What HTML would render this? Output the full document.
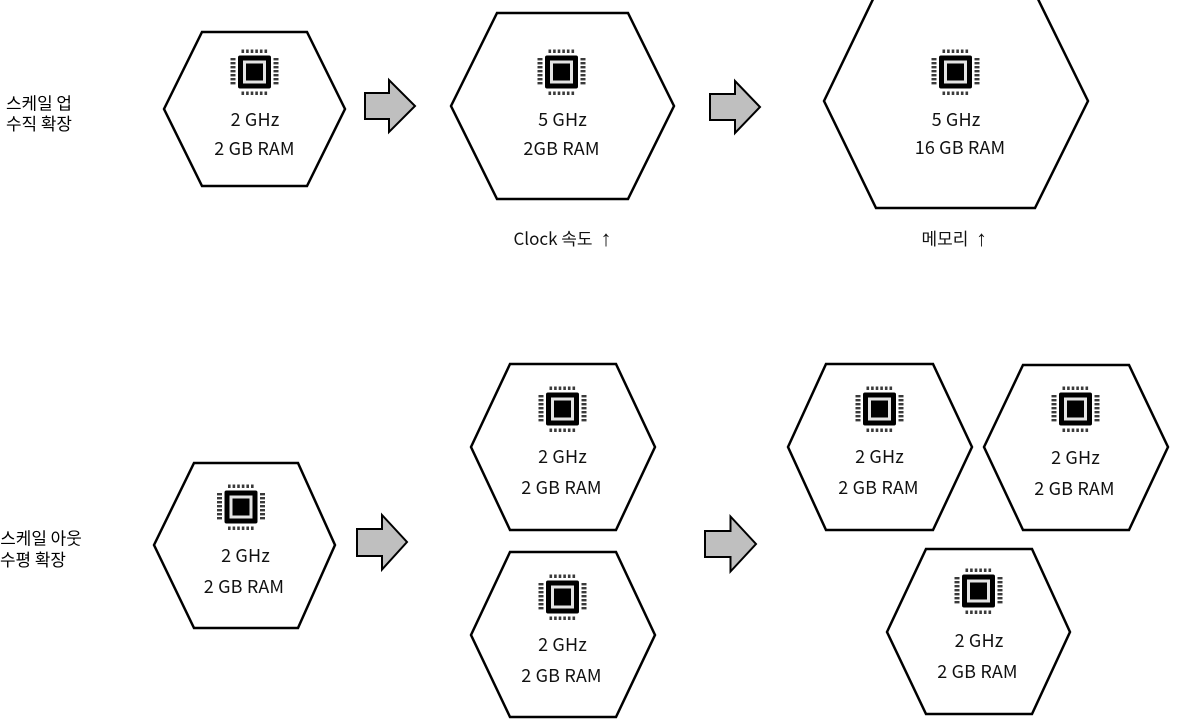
<!DOCTYPE html>
<html><head><meta charset="utf-8"><style>
html,body{margin:0;padding:0;background:#fff}
svg{display:block}
text{font-family:"Noto Sans CJK KR","Liberation Sans",sans-serif;font-size:18px;fill:#111;text-anchor:middle;letter-spacing:.15px}
.s{font-size:16.9px;fill:#000;letter-spacing:0}
.l{font-size:17px;fill:#111;letter-spacing:0}
.r{font-family:"Liberation Sans",sans-serif;font-size:22px;fill:#111;letter-spacing:0}
.h{fill:#fff;stroke:#000;stroke-width:2.5;stroke-linejoin:miter}
.a{fill:#bfbfbf;stroke:#000;stroke-width:2}
</style></head><body>
<svg width="1196" height="724" viewBox="0 0 1196 724" xmlns="http://www.w3.org/2000/svg">
<defs>
<g id="c">
<rect x="-16.5" y="-16.5" width="33" height="33" rx="2" fill="#000"/>
<rect x="-10" y="-10" width="20" height="20" fill="#000" stroke="#e4e4e4" stroke-width="3"/>
<g fill="#3a3a3a">
<rect x="-13" y="-22.5" width="2.6" height="3.5"/><rect x="-8.4" y="-22.5" width="2.6" height="3.5"/><rect x="-3.8" y="-22.5" width="2.6" height="3.5"/><rect x="0.8" y="-22.5" width="2.6" height="3.5"/><rect x="5.4" y="-22.5" width="2.6" height="3.5"/><rect x="10" y="-22.5" width="2.6" height="3.5"/>
<rect x="-13" y="19.5" width="2.6" height="3.5"/><rect x="-8.4" y="19.5" width="2.6" height="3.5"/><rect x="-3.8" y="19.5" width="2.6" height="3.5"/><rect x="0.8" y="19.5" width="2.6" height="3.5"/><rect x="5.4" y="19.5" width="2.6" height="3.5"/><rect x="10" y="19.5" width="2.6" height="3.5"/>
<rect x="-24" y="-14" width="5" height="2.4"/><rect x="-24" y="-10" width="5" height="2.4"/><rect x="-24" y="-6" width="5" height="2.4"/><rect x="-24" y="-2" width="5" height="2.4"/><rect x="-24" y="2" width="5" height="2.4"/><rect x="-24" y="6" width="5" height="2.4"/><rect x="-24" y="10" width="5" height="2.4"/>
<rect x="19" y="-14" width="5" height="2.4"/><rect x="19" y="-10" width="5" height="2.4"/><rect x="19" y="-6" width="5" height="2.4"/><rect x="19" y="-2" width="5" height="2.4"/><rect x="19" y="2" width="5" height="2.4"/><rect x="19" y="6" width="5" height="2.4"/><rect x="19" y="10" width="5" height="2.4"/>
</g>
</g>
</defs>

<polygon class="h" points="164,109 202,32 307,32 345,109 307,186 202,186"/>
<polygon class="h" points="451,106 497,13 628,13 674,106 628,199 497,199"/>
<polygon class="h" points="824,101 876,-7 1035,-7 1088,101 1035,208 876,208"/>
<polygon class="h" points="154,545 194,463 298,463 335,545 298,628 194,628"/>
<polygon class="h" points="471,447 510,364 616,364 655,447 616,530 510,530"/>
<polygon class="h" points="471,635 510,552 616,552 655,635 616,717 510,717"/>
<polygon class="h" points="788,447 826,364 933,364 972,447 933,530 826,530"/>
<polygon class="h" points="984,447 1023,365 1129,365 1168,447 1129,530 1023,530"/>
<polygon class="h" points="887,632 926,549 1032,549 1070,632 1032,714 926,714"/>

<polygon class="a" points="365,93 389,93 389,80 415,106 389,132 389,119 365,119"/>
<polygon class="a" points="710,94 735,94 735,81 760,107 735,133 735,120 710,120"/>
<polygon class="a" points="357,529 382,529 382,515 407,542 382,569.5 382,556 357,556"/>
<polygon class="a" points="705,531 730.5,531 730.5,516.5 756,544 730.5,571.5 730.5,557 705,557"/>

<use href="#c" x="254.5" y="72"/>
<use href="#c" x="561.5" y="72"/>
<use href="#c" x="955.5" y="72"/>
<use href="#c" x="241" y="507"/>
<use href="#c" x="562.5" y="409"/>
<use href="#c" x="562.5" y="597"/>
<use href="#c" x="879.5" y="409"/>
<use href="#c" x="1075.5" y="409"/>
<use href="#c" x="978.5" y="591"/>

<text x="255" y="126">2 GHz</text><text x="254.5" y="155">2 GB RAM</text>
<text x="562.5" y="126">5 GHz</text><text x="561.5" y="155">2GB RAM</text>
<text x="956" y="126">5 GHz</text><text x="960" y="154">16 GB RAM</text>
<text x="245.5" y="562">2 GHz</text><text x="244" y="593">2 GB RAM</text>
<text x="562.5" y="463">2 GHz</text><text x="561.5" y="494">2 GB RAM</text>
<text x="562.5" y="651">2 GHz</text><text x="561.5" y="682">2 GB RAM</text>
<text x="879.5" y="463">2 GHz</text><text x="878.5" y="494">2 GB RAM</text>
<text x="1075.5" y="464">2 GHz</text><text x="1074.5" y="495">2 GB RAM</text>
<text x="979" y="647">2 GHz</text><text x="977.5" y="678">2 GB RAM</text>

<text class="l" x="553" y="245">Clock 속도</text><text class="r" x="606" y="246">↑</text>
<text class="l" x="945" y="245">메모리</text><text class="r" x="981.5" y="246">↑</text>

<text class="s" x="39" y="109.5">스케일 업</text>
<text class="s" x="39" y="130">수직 확장</text>
<text class="s" x="41" y="544.5">스케일 아웃</text>
<text class="s" x="33" y="566">수평 확장</text>
</svg>
</body></html>
